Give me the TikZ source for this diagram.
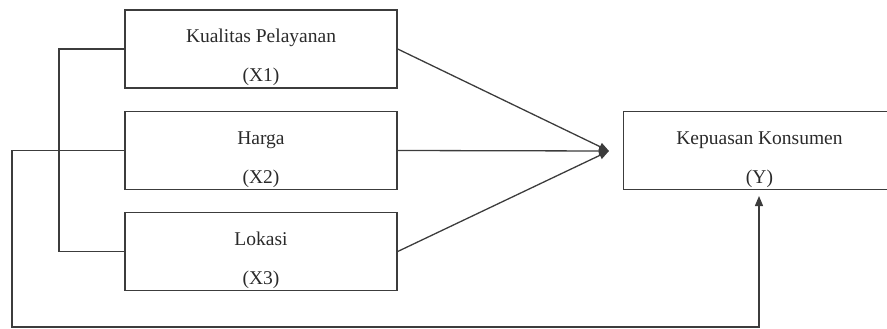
\documentclass[tikz,border=0pt]{standalone}
\usepackage{fontspec}
\setmainfont{Liberation Serif}
\usetikzlibrary{arrows.meta}
\definecolor{linegray}{HTML}{3C3C3C}
\definecolor{textgray}{HTML}{2A2A2A}
\begin{document}
\begin{tikzpicture}[x=1pt,y=-1pt,
  varbox/.style={draw=linegray,line width=1.4pt,rectangle,minimum width=272pt,minimum height=78pt,inner sep=0pt},
  lbl/.style={text=textgray,font=\fontsize{19.5}{22}\selectfont,inner sep=0pt,anchor=base},
  conn/.style={draw=linegray,line width=1.3pt},
  arr/.style={conn,-{Triangle[length=10pt,width=8pt]}}]
\useasboundingbox (0,0) rectangle (887,329);
\node[varbox] (b1) at (261,49) {};
\node[varbox] (b2) at (261,150.5) {};
\node[varbox] (b3) at (261,251.5) {};
\node[varbox] (by) at (759.5,150.5) {};
\node[lbl] (t1a) at (261,43) {Kualitas Pelayanan};
\node[lbl] (t1b) at (261,82) {(X1)};
\node[lbl] (t2a) at (261,144) {Harga};
\node[lbl] (t2b) at (261,183) {(X2)};
\node[lbl] (t3a) at (261,245) {Lokasi};
\node[lbl] (t3b) at (261,284) {(X3)};
\node[lbl] (tya) at (759.5,144) {Kepuasan Konsumen};
\node[lbl] (tyb) at (759.5,183) {(Y)};
\coordinate (meet) at (609,151);
\coordinate (yin) at (759,196);
\draw[arr] (b1.east) -- (meet);
\draw[arr] (b2.east) -- (meet);
\draw[arr] (b3.east) -- (meet);
\draw[conn] (b1.west) -- (59,49) -- (59,251.5) -- (b3.west);
\draw[arr] (b2.west) -- (12,150.5) -- (12,327) -- (759,327) -- (yin);
\end{tikzpicture}
\end{document}
